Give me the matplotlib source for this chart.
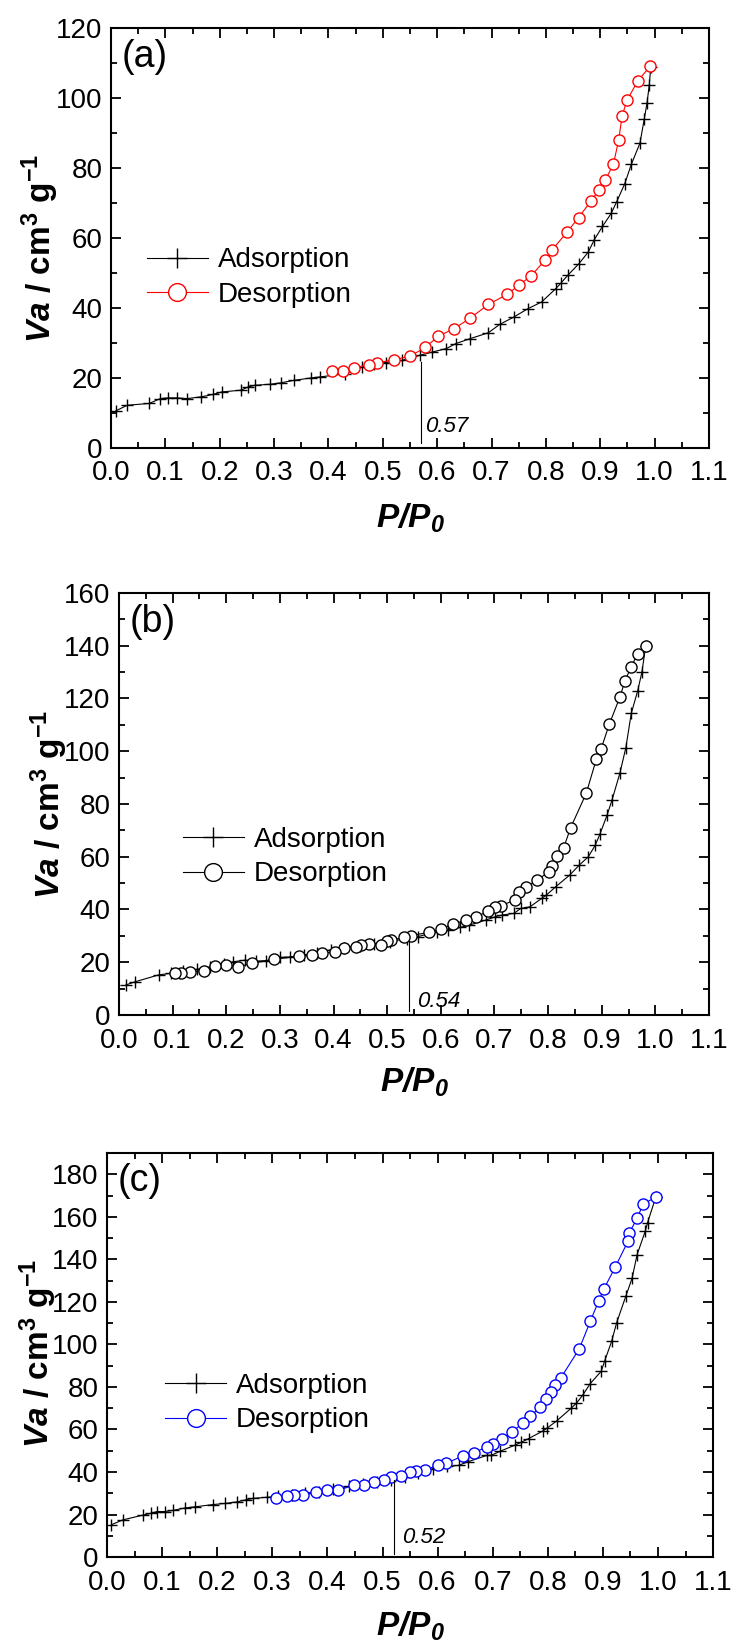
import matplotlib
matplotlib.use('Agg')
import matplotlib.pyplot as plt
import matplotlib.ticker as plticker
from matplotlib import font_manager

names = {f.name for f in font_manager.fontManager.ttflist}
narrow = 'Liberation Sans Narrow' if 'Liberation Sans Narrow' in names else 'Liberation Sans'

plt.rcParams['font.family'] = ['Liberation Sans', 'DejaVu Sans']
plt.rcParams['mathtext.fontset'] = 'custom'
plt.rcParams['mathtext.rm'] = 'Liberation Sans'
plt.rcParams['mathtext.it'] = 'Liberation Sans:italic'
plt.rcParams['mathtext.bf'] = 'Liberation Sans:bold'
plt.rcParams['mathtext.bfit'] = 'Liberation Sans:italic:bold'

# ---- panel (a) ----
ads_a_x = [0.009, 0.030, 0.070, 0.091, 0.104, 0.121, 0.140, 0.166, 0.188, 0.204, 0.239, 0.252,
           0.264, 0.293, 0.312, 0.336, 0.368, 0.385, 0.430, 0.462, 0.483, 0.505, 0.535, 0.569,
           0.591, 0.617, 0.634, 0.660, 0.694, 0.715, 0.741, 0.767, 0.792, 0.818, 0.827, 0.840,
           0.861, 0.878, 0.889, 0.904, 0.920, 0.930, 0.945, 0.957, 0.973, 0.981, 0.986, 0.990, 0.993]
ads_a_y = [10.6, 12.2, 12.7, 14.1, 14.3, 14.3, 14.1, 14.6, 15.3, 16.0, 16.5, 17.4,
           17.9, 18.2, 18.6, 19.3, 20.0, 20.3, 21.2, 23.1, 24.1, 24.4, 25.0, 26.5,
           27.4, 28.4, 29.8, 31.2, 32.9, 35.3, 37.4, 39.8, 41.7, 45.5, 47.0, 49.3,
           52.7, 56.0, 59.5, 63.3, 67.0, 70.3, 75.5, 81.0, 87.1, 94.1, 98.6, 103.6, 109.0]
des_a_x = [0.992, 0.969, 0.949, 0.940, 0.934, 0.924, 0.909, 0.897, 0.883, 0.860, 0.839, 0.812,
           0.798, 0.773, 0.751, 0.729, 0.694, 0.660, 0.631, 0.602, 0.578, 0.550, 0.520, 0.489,
           0.475, 0.447, 0.426, 0.407]
des_a_y = [109.1, 104.9, 99.3, 94.8, 88.1, 81.0, 76.5, 73.6, 70.6, 65.8, 61.7, 56.7,
           53.6, 49.2, 46.6, 43.9, 41.0, 37.0, 34.1, 31.9, 28.7, 26.2, 25.2, 24.3,
           23.8, 22.9, 21.9, 21.9]

# ---- panel (b) ----
ads_b_x = [0.013, 0.030, 0.074, 0.096, 0.120, 0.145, 0.170, 0.195, 0.213, 0.235, 0.255, 0.274,
           0.300, 0.318, 0.345, 0.370, 0.396, 0.420, 0.450, 0.475, 0.505, 0.536, 0.557, 0.592,
           0.614, 0.636, 0.653, 0.684, 0.701, 0.714, 0.736, 0.749, 0.766, 0.788, 0.797, 0.814,
           0.840, 0.858, 0.875, 0.888, 0.897, 0.910, 0.919, 0.934, 0.945, 0.955, 0.967, 0.975, 0.982]
ads_b_y = [11.4, 12.6, 15.2, 15.8, 16.5, 17.3, 18.2, 19.2, 20.2, 20.8, 20.4, 20.6,
           21.8, 22.0, 22.8, 23.6, 24.8, 25.5, 26.2, 27.0, 27.8, 29.0, 29.7, 31.6,
           32.2, 33.2, 34.1, 36.0, 37.2, 37.9, 38.5, 40.4, 41.0, 44.2, 45.5, 48.6,
           53.0, 56.8, 60.0, 64.4, 68.8, 75.8, 81.4, 91.8, 101.4, 114.3, 122.9, 130.1, 139.9]
des_b_x = [0.982, 0.967, 0.955, 0.943, 0.934, 0.914, 0.899, 0.890, 0.871, 0.842, 0.829, 0.817,
           0.808, 0.801, 0.780, 0.758, 0.746, 0.738, 0.712, 0.701, 0.688, 0.666, 0.647, 0.623,
           0.601, 0.577, 0.544, 0.531, 0.508, 0.499, 0.488, 0.466, 0.451, 0.442, 0.420, 0.403,
           0.379, 0.360, 0.335, 0.289, 0.248, 0.222, 0.200, 0.179, 0.159, 0.133, 0.116, 0.105]
des_b_y = [139.9, 137.0, 132.0, 126.5, 120.6, 110.2, 101.0, 97.0, 84.0, 71.0, 63.4, 60.2,
           56.4, 54.3, 51.1, 48.4, 46.5, 43.6, 41.4, 40.8, 39.5, 37.0, 36.0, 34.5,
           32.6, 31.3, 30.1, 29.4, 28.4, 28.2, 26.5, 26.8, 26.5, 25.9, 25.3, 24.0,
           23.4, 22.7, 22.3, 21.1, 19.6, 18.3, 18.9, 18.6, 16.8, 16.4, 15.8, 15.8]

# ---- panel (c) ----
ads_c_x = [0.008, 0.029, 0.065, 0.080, 0.091, 0.105, 0.119, 0.142, 0.159, 0.193, 0.214, 0.235,
           0.252, 0.265, 0.290, 0.310, 0.335, 0.360, 0.385, 0.410, 0.440, 0.465, 0.490, 0.515,
           0.540, 0.565, 0.591, 0.617, 0.638, 0.655, 0.689, 0.697, 0.714, 0.740, 0.752, 0.765,
           0.791, 0.799, 0.816, 0.842, 0.852, 0.863, 0.877, 0.897, 0.903, 0.916, 0.925, 0.942,
           0.953, 0.962, 0.977, 0.981, 0.996]
ads_c_y = [15.2, 17.5, 19.7, 20.6, 21.4, 21.4, 21.9, 23.1, 23.6, 24.7, 25.2, 25.9,
           26.9, 27.6, 28.1, 28.5, 29.3, 30.0, 30.8, 31.8, 33.3, 34.3, 35.2, 36.3,
           37.6, 39.3, 41.5, 42.6, 43.1, 44.8, 47.8, 47.8, 49.8, 52.6, 54.0, 55.7,
           59.3, 60.7, 64.0, 69.9, 72.4, 76.0, 81.6, 87.4, 92.1, 101.6, 110.3, 123.0,
           131.2, 142.2, 153.4, 157.3, 169.3]
des_c_x = [0.996, 0.973, 0.962, 0.948, 0.946, 0.922, 0.902, 0.892, 0.877, 0.857, 0.824, 0.813,
           0.806, 0.797, 0.786, 0.768, 0.755, 0.735, 0.716, 0.701, 0.689, 0.666, 0.646, 0.615,
           0.601, 0.577, 0.561, 0.549, 0.533, 0.515, 0.502, 0.485, 0.466, 0.449, 0.420, 0.400,
           0.379, 0.355, 0.339, 0.326, 0.307]
des_c_y = [169.3, 166.0, 159.3, 152.6, 148.8, 136.2, 126.2, 120.3, 110.8, 97.9, 84.4, 80.7,
           77.4, 74.5, 70.4, 66.2, 63.2, 58.7, 55.7, 53.2, 51.8, 49.0, 47.6, 44.0,
           43.1, 41.0, 40.3, 39.8, 38.1, 37.6, 36.1, 35.1, 33.9, 33.9, 31.4, 31.4,
           30.6, 29.4, 29.4, 28.6, 27.7]

panels = [
    dict(tag='(a)', ax=[0.1516, 0.7282, 0.817, 0.2548], ymax=120, ystep=20,
         ads=(ads_a_x, ads_a_y), des=(des_a_x, des_a_y), col='red',
         mark=0.57, mark_top=24.6, mark_txt=(0.578, 6.0),
         leg=(0.060, 0.406), ylab=(-0.084, 0.476), xlab_y=-0.128),
    dict(tag='(b)', ax=[0.1626, 0.3841, 0.806, 0.2561], ymax=160, ystep=20,
         ads=(ads_b_x, ads_b_y), des=(des_b_x, des_b_y), col='black',
         mark=0.54, mark_top=28.0, mark_txt=(0.555, 5.0),
         leg=(0.108, 0.374), ylab=(-0.083, 0.50), xlab_y=-0.12),
    dict(tag='(c)', ax=[0.1462, 0.0552, 0.828, 0.2451], ymax=190, ystep=20,
         ads=(ads_c_x, ads_c_y), des=(des_c_x, des_c_y), col='blue',
         mark=0.52, mark_top=36.0, mark_txt=(0.535, 9.0),
         leg=(0.096, 0.381), ylab=(-0.079, 0.505), xlab_y=-0.131),
]

fig = plt.figure(figsize=(7.32, 16.48), dpi=100)

for p in panels:
    ax = fig.add_axes(p['ax'])
    ax.plot(p['ads'][0], p['ads'][1], color='black', lw=0.8, marker='+',
            ms=9, mew=1.0, label='Adsorption')
    ax.plot(p['des'][0], p['des'][1], color=p['col'], lw=0.8, marker='o',
            ms=8, mew=1.0, mfc='white', label='Desorption')

    ax.plot([p['mark'], p['mark']], [p['mark_top'], 1.5], color='black', lw=0.8)
    ax.text(p['mark_txt'][0], p['mark_txt'][1], f"{p['mark']:.2f}", style='italic',
            fontsize=16, va='center', ha='left')

    ax.set_xlim(0, 1.1)
    ax.set_ylim(0, p['ymax'])
    ax.xaxis.set_major_locator(plticker.MultipleLocator(0.1))
    ax.xaxis.set_minor_locator(plticker.MultipleLocator(0.05))
    ax.yaxis.set_major_locator(plticker.MultipleLocator(p['ystep']))
    ax.yaxis.set_minor_locator(plticker.MultipleLocator(p['ystep'] / 2))
    ax.xaxis.set_major_formatter(plticker.FormatStrFormatter('%.1f'))
    ax.tick_params(which='both', direction='in', top=True, right=True, width=1.3)
    ax.tick_params(which='major', length=7)
    ax.tick_params(which='minor', length=4)
    ax.tick_params(axis='x', pad=9)
    ax.tick_params(axis='y', pad=6)
    for lab in ax.get_xticklabels() + ax.get_yticklabels():
        lab.set_family(narrow)
        lab.set_fontsize(20)
    for sp in ax.spines.values():
        sp.set_linewidth(1.5)

    ax.text(0.018, 0.93, p['tag'], transform=ax.transAxes, family=narrow,
            fontsize=27, va='center', ha='left')

    ax.set_ylabel(r'$\mathbfit{Va}$ / cm$^{\mathbf{3}}$ g$^{\mathbf{-1}}$',
                  fontsize=24, fontweight='bold')
    ax.yaxis.set_label_coords(p['ylab'][0], p['ylab'][1])
    ax.set_xlabel(r'$\mathbfit{P/P_0}$', fontsize=24)
    ax.xaxis.set_label_coords(0.5, p['xlab_y'])

    ax.legend(loc='center left', bbox_to_anchor=p['leg'], frameon=False,
              prop={'family': narrow, 'size': 20}, handlelength=2.2,
              handletextpad=0.35, labelspacing=0.3, markerscale=1.6,
              borderpad=0, borderaxespad=0)

plt.savefig('out.png', dpi=100)
